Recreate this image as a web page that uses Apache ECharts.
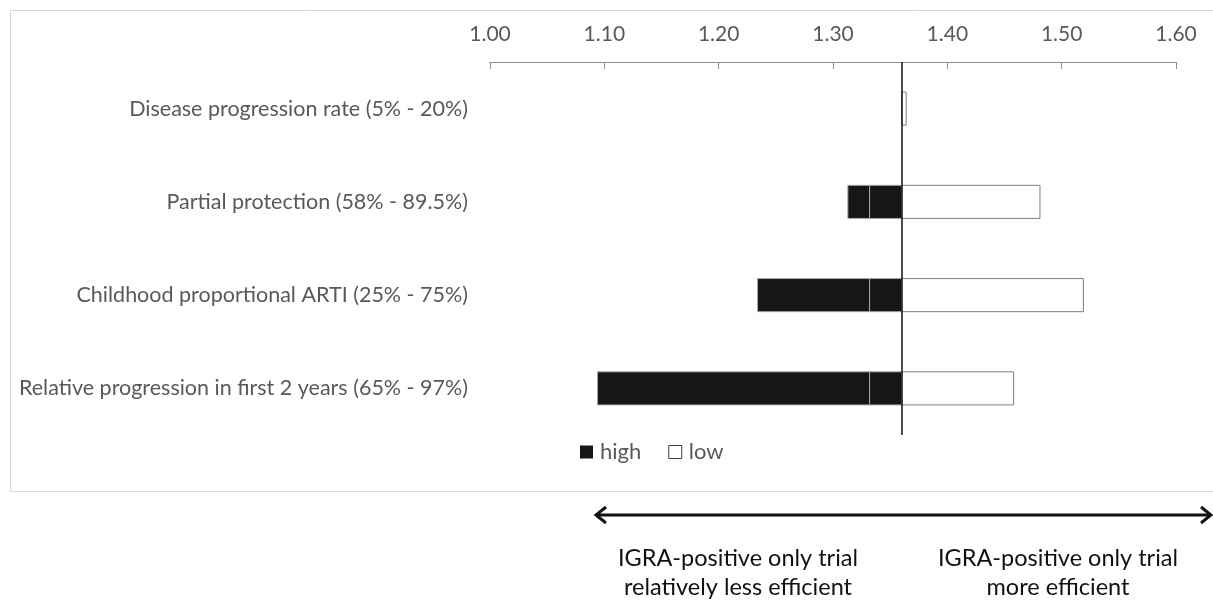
<!DOCTYPE html>
<html>
<head>
<meta charset="utf-8">
<script src="https://cdn.jsdelivr.net/npm/echarts@6/dist/echarts.min.js"></script>
<style>
html,body{margin:0;padding:0;background:#fff;}
#chart{width:1213px;height:602px;}
</style>
</head>
<body>
<div id="chart"></div>
<script>
const categories = [
  'Disease progression rate (5% - 20%)',
  'Partial protection (58% - 89.5%)',
  'Childhood proportional ARTI (25% - 75%)',
  'Relative progression in first 2 years (65% - 97%)'
];
const baseValue = 1.36;
const seamValue = 1.332;
const highValues = [1.36, 1.313, 1.234, 1.094];
const lowValues = [1.364, 1.481, 1.519, 1.458];
const xTicks = [1.0, 1.1, 1.2, 1.3, 1.4, 1.5, 1.6];
const leftNote = ['IGRA-positive only trial', 'relatively less efficient'];
const rightNote = ['IGRA-positive only trial', 'more efficient'];

const FONT = 'Lato';
const chart = echarts.init(document.getElementById('chart'));

function barRender(kind) {
  return function (params, api) {
    const v = api.value(0);
    const idx = api.value(1);
    const h = api.size([0, 1])[1] * 0.355;
    const children = [];
    function seg(a, b, fill, stroke) {
      const p0 = api.coord([a, idx]);
      const p1 = api.coord([b, idx]);
      const x = Math.min(p0[0], p1[0]);
      const w = Math.abs(p1[0] - p0[0]);
      if (w <= 0) return;
      children.push({
        type: 'rect',
        shape: { x: x, y: p0[1] - h / 2, width: w, height: h },
        style: { fill: fill, stroke: stroke, lineWidth: 1 }
      });
    }
    if (kind === 'high') {
      if (v < baseValue) {
        if (v < seamValue) {
          seg(v, seamValue, '#161616', '#a6a6a6');
          seg(seamValue, baseValue, '#161616', '#a6a6a6');
        } else {
          seg(v, baseValue, '#161616', '#a6a6a6');
        }
      }
    } else {
      if (v > baseValue) seg(baseValue, v, '#ffffff', '#7f7f7f');
    }
    return { type: 'group', children: children };
  };
}

const option = {
  animation: false,
  backgroundColor: '#fff',
  textStyle: { fontFamily: FONT },
  grid: { left: 490, right: 37, top: 62, bottom: 167, containLabel: false },
  xAxis: {
    type: 'value',
    position: 'top',
    min: xTicks[0],
    max: xTicks[xTicks.length - 1],
    interval: 0.1,
    axisLine: { show: true, lineStyle: { color: '#8c8c8c', width: 1 } },
    axisTick: { show: true, inside: true, length: 7, lineStyle: { color: '#8c8c8c' } },
    splitLine: { show: false },
    axisLabel: {
      color: '#595959', fontSize: 21, fontFamily: FONT, margin: 17,
      formatter: v => v.toFixed(2)
    }
  },
  yAxis: {
    type: 'category',
    inverse: true,
    data: categories,
    axisLine: { show: false },
    axisTick: { show: false },
    splitLine: { show: false },
    axisLabel: { color: '#595959', fontSize: 21.5, fontFamily: FONT, margin: 22 }
  },
  legend: {
    left: 580, top: 441, padding: 0,
    itemWidth: 13, itemHeight: 13, itemGap: 27,
    icon: 'rect',
    textStyle: { color: '#595959', fontSize: 22, fontFamily: FONT, padding: [0, 0, 0, 2] },
    data: [
      { name: 'high', itemStyle: { color: '#161616', borderWidth: 0 } },
      { name: 'low', itemStyle: { color: '#ffffff', borderColor: '#404040', borderWidth: 1 } }
    ]
  },
  series: [
    {
      name: 'high', type: 'custom',
      itemStyle: { color: '#161616' },
      encode: { x: 0, y: 1 },
      data: highValues.map((v, i) => [v, i]),
      renderItem: barRender('high'),
      markLine: {
        silent: true, symbol: 'none', label: { show: false },
        lineStyle: { color: '#111', width: 1.5, type: 'solid' },
        data: [{ xAxis: baseValue }]
      },
      z: 3
    },
    {
      name: 'low', type: 'custom',
      itemStyle: { color: '#ffffff', borderColor: '#404040', borderWidth: 1 },
      encode: { x: 0, y: 1 },
      data: lowValues.map((v, i) => [v, i]),
      renderItem: barRender('low'),
      z: 3
    }
  ],
  graphic: [
    { type: 'rect', z: -1, shape: { x: 10.5, y: 10.5, width: 1210, height: 481 },
      style: { fill: 'none', stroke: '#d9d9d9', lineWidth: 1 } },
    { type: 'line', shape: { x1: 597, y1: 515, x2: 1209, y2: 515 },
      style: { stroke: '#111', lineWidth: 3 } },
    { type: 'polyline', shape: { points: [[606, 507], [596, 515], [606, 523]] },
      style: { stroke: '#111', lineWidth: 3, fill: 'none' } },
    { type: 'polyline', shape: { points: [[1201, 507], [1211, 515], [1201, 523]] },
      style: { stroke: '#111', lineWidth: 3, fill: 'none' } },
    { type: 'text', x: 738, y: 558,
      style: { text: leftNote[0], fill: '#111', font: '23.5px ' + FONT, textAlign: 'center', textVerticalAlign: 'middle' } },
    { type: 'text', x: 738, y: 587,
      style: { text: leftNote[1], fill: '#111', font: '23.5px ' + FONT, textAlign: 'center', textVerticalAlign: 'middle' } },
    { type: 'text', x: 1058, y: 558,
      style: { text: rightNote[0], fill: '#111', font: '23.5px ' + FONT, textAlign: 'center', textVerticalAlign: 'middle' } },
    { type: 'text', x: 1058, y: 587,
      style: { text: rightNote[1], fill: '#111', font: '23.5px ' + FONT, textAlign: 'center', textVerticalAlign: 'middle' } }
  ]
};
chart.setOption(option);
</script>
</body>
</html>
